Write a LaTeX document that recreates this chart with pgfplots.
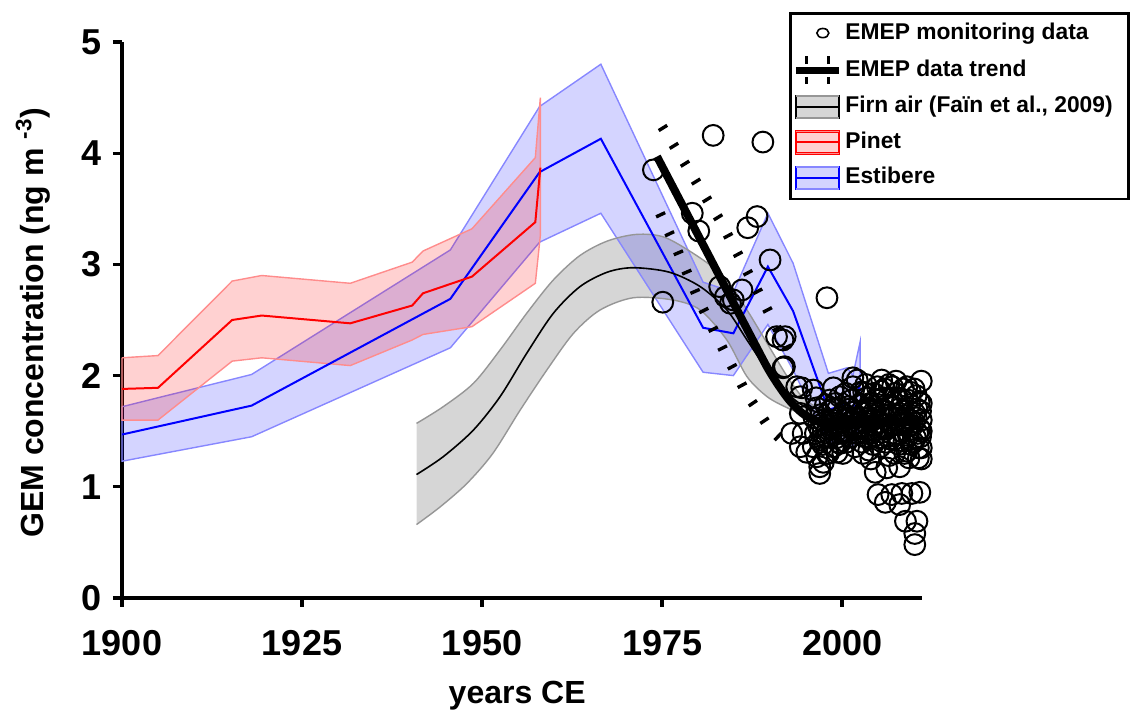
\documentclass[border=0pt]{standalone}
\usepackage{fontspec}
\setmainfont{Liberation Sans}
\usepackage{pgfplots}
\pgfplotsset{compat=1.18}
\usepgfplotslibrary{fillbetween}
\definecolor{bandblue}{RGB}{0,0,255}
\definecolor{edgeblue}{RGB}{135,135,255}
\definecolor{edgered}{RGB}{255,140,140}
\definecolor{edgegray}{RGB}{150,150,150}
\begin{document}
\begin{tikzpicture}
\begin{axis}[
 at={(0,0)}, anchor=south west,
 scale only axis, width=400pt, height=278pt,
 xmin=1900, xmax=2011.1, ymin=0, ymax=5,
 axis x line=bottom, axis y line=left,
 axis line style={-, line width=1.6pt},
 tick align=outside, major tick length=4.5pt,
 tick style={line width=1.6pt, black},
 xtick={1900,1925,1950,1975,2000}, ytick={0,1,2,3,4,5},
 minor tick num=0,
 /pgf/number format/1000 sep={},
 /pgf/number format/assume math mode=true,
 ticklabel style={font=\bfseries\fontsize{18}{20}\selectfont},
 xticklabel style={yshift=-8pt},
 yticklabel style={xshift=-2pt},
 xlabel={years CE}, ylabel={GEM concentration (ng m \textsuperscript{-3})},
 label style={font=\bfseries\fontsize{16}{18}\selectfont},
 xlabel style={at={(axis description cs:0.494,-0.176)}, anchor=center},
 ylabel style={at={(axis description cs:-0.111,0.495)}, anchor=center},
 clip=false,
 legend cell align=left,
 legend style={at={(1.26,1.054)}, anchor=north east, draw=black, line width=1.3pt,
   font=\bfseries\fontsize{11.4}{13}\selectfont, inner xsep=1pt, inner ysep=3pt,
   nodes={inner xsep=0pt, inner ysep=2pt, text height=8.3pt, text depth=2.5pt},
   row sep=3pt, /tikz/every odd column/.append style={column sep=1.5pt}},
]
% legend
\addlegendimage{legend image code/.code={\path (0pt,0) (21.5pt,0); \draw[black,line width=0.8pt] (13.5pt,0.5pt) ellipse (3pt and 2.3pt);}}
\addlegendentry{EMEP monitoring data}
\addlegendimage{legend image code/.code={\path (0pt,0) (21.5pt,0); \draw[black,line width=3.5pt] (0pt,0)--(21.5pt,0);
  \draw[black,line width=1.6pt] (5.5pt,3.2pt)--(5.5pt,7pt) (16.5pt,3.2pt)--(16.5pt,7pt) (5.5pt,-3.2pt)--(5.5pt,-7pt) (16.5pt,-3.2pt)--(16.5pt,-7pt);}}
\addlegendentry{EMEP data trend}
\addlegendimage{legend image code/.code={\fill[black,fill opacity=0.16] (0pt,-5.5pt) rectangle (21.5pt,5.5pt);
  \draw[edgegray,line width=0.7pt] (0pt,5.5pt)--(21.5pt,5.5pt) (0pt,-5.5pt)--(21.5pt,-5.5pt); \draw[black,line width=0.8pt] (0pt,0)--(21.5pt,0);}}
\addlegendentry{Firn air (Faïn et al., 2009)\hspace*{7pt}}
\addlegendimage{legend image code/.code={\fill[red,fill opacity=0.18] (0pt,-5.5pt) rectangle (21.5pt,5.5pt);
  \draw[edgered,line width=0.7pt] (0pt,5.5pt)--(21.5pt,5.5pt) (0pt,-5.5pt)--(21.5pt,-5.5pt); \draw[red,line width=1pt] (0pt,0)--(21.5pt,0);}}
\addlegendentry{Pinet}
\addlegendimage{legend image code/.code={\fill[bandblue,fill opacity=0.17] (0pt,-5.5pt) rectangle (21.5pt,5.5pt);
  \draw[edgeblue,line width=0.7pt] (0pt,5.5pt)--(21.5pt,5.5pt) (0pt,-5.5pt)--(21.5pt,-5.5pt); \draw[bandblue,line width=1pt] (0pt,0)--(21.5pt,0);}}
\addlegendentry{Estibere}

% Estibere band
\addplot[forget plot, fill=bandblue, fill opacity=0.17, draw=edgeblue, line width=0.7pt] coordinates {
(1900,1.72)(1918,2.01)(1945.6,3.13)(1958,4.42)(1966.5,4.80)(1980.7,2.84)(1984.9,2.75)(1989.7,3.46)(1993.2,3.01)(1998.1,2.02)(2000.7,2.07)(2001.5,2.00)(2002.5,2.30)
(2002.5,1.55)(2001.4,1.35)(2000.7,1.42)(1998.1,1.40)(1993.2,2.05)(1989.7,2.46)(1984.9,2.00)(1980.7,2.03)(1966.5,3.46)(1958,3.20)(1945.6,2.25)(1918,1.45)(1900,1.23)(1900,1.72)
};
% Pinet band
\addplot[forget plot, fill=red, fill opacity=0.18, draw=edgered, line width=0.7pt] coordinates {
(1900,2.16)(1905,2.18)(1915.3,2.85)(1919.4,2.90)(1931.7,2.83)(1940.3,3.02)(1941.8,3.12)(1948.6,3.32)(1957.4,3.96)(1958.1,4.50)
(1958.1,3.26)(1957.4,2.83)(1948.6,2.44)(1941.8,2.37)(1940.3,2.32)(1931.7,2.09)(1919.4,2.16)(1915.3,2.13)(1905,1.60)(1900,1.60)(1900,2.16)
};
% Firn air band
\addplot[forget plot, name path=fu, smooth, edgegray, line width=0.7pt] coordinates {
(1940.9,1.57)(1944.6,1.72)(1948.8,1.93)(1952.5,2.23)(1956.2,2.56)(1959.9,2.86)(1963.6,3.08)(1967.4,3.21)(1971.5,3.27)(1975.5,3.24)(1980.7,3.04)(1984,2.86)(1986.8,2.59)(1989.6,2.29)(1992.4,1.99)(1994.6,1.80)(1997,1.70)(2000,1.66)(2005,1.64)};
\addplot[forget plot, name path=fl, smooth, edgegray, line width=0.7pt] coordinates {
(1940.9,0.66)(1944.2,0.82)(1947.9,1.03)(1951.5,1.30)(1955.3,1.69)(1959.0,2.05)(1962.7,2.38)(1966.4,2.59)(1971.0,2.70)(1976.5,2.68)(1980.3,2.59)(1984,2.32)(1986.8,1.99)(1989.6,1.81)(1992.4,1.71)(1995.1,1.64)(1998,1.58)(2005,1.56)};
\addplot[forget plot, black, fill opacity=0.16] fill between[of=fu and fl];
% centre lines
\addplot[forget plot, bandblue, line width=1pt] coordinates {
(1900,1.47)(1918,1.73)(1945.6,2.69)(1958,3.83)(1966.5,4.13)(1980.7,2.43)(1984.9,2.38)(1989.7,2.98)(1993.2,2.58)(1998.1,1.69)(2000.7,1.75)(2001.4,1.68)(2002.5,1.93)};
\addplot[forget plot, red, line width=1pt] coordinates {
(1900,1.88)(1905,1.89)(1915.3,2.50)(1919.4,2.54)(1931.7,2.47)(1940.3,2.63)(1941.8,2.74)(1948.6,2.89)(1957.4,3.38)(1958.1,3.87)};
\addplot[forget plot, black, smooth, line width=0.8pt] coordinates {
(1940.9,1.11)(1944.6,1.27)(1948.8,1.51)(1952.5,1.81)(1956.2,2.20)(1959.9,2.56)(1963.6,2.80)(1967.4,2.93)(1971,2.97)(1976,2.93)(1980.3,2.80)(1984,2.59)(1986.8,2.32)(1989.6,2.05)(1992.4,1.84)(1995.1,1.71)(1998.8,1.63)(2005,1.60)};
% EMEP trend confidence (dashed)
\addplot[forget plot, black, line width=5pt, dash pattern=on 1.7pt off 8.8pt] coordinates {
(1975,4.24)(1983,3.40)(1988.2,2.77)(1993.5,2.11)};
\addplot[forget plot, black, line width=5pt, dash pattern=on 1.7pt off 8.8pt] coordinates {
(1974.7,3.46)(1977.1,3.13)(1980.3,2.65)(1984,2.17)(1986.8,1.83)(1990,1.52)(1992.6,1.36)};
% EMEP monitoring data
\addplot[forget plot, only marks, mark=o, mark size=5.2pt, mark options={line width=1pt, black}] coordinates {
(1973.8,3.85)(1975.1,2.66)(1979.2,3.46)(1980.1,3.30)(1982.1,4.16)(1983.0,2.80)(1983.8,2.71)(1984.5,2.65)(1984.9,2.68)(1986.1,2.77)
(1986.9,3.33)(1988.2,3.43)(1989.0,4.10)(1990.0,3.04)(1990.9,2.35)(1991.8,2.32)(1992.1,2.35)(1991.8,2.07)(1992.0,2.08)(1993.0,1.48)
(1993.7,1.90)(1994.2,1.81)(1994.2,1.66)(1994.4,1.89)(1994.2,1.36)(1994.6,1.48)(1995.1,1.31)(1996.0,1.87)(1996.0,1.36)(1996.5,1.27)
(1996.9,1.18)(1996.9,1.12)(1997.9,2.70)(1997.9,1.45)(1998.8,1.89)(1999.7,1.81)(1999.7,1.39)(2001.5,1.98)(2001.5,1.90)(2002.1,1.96)
(1996.1,1.62)(1996.3,1.48)(1996.5,1.71)(1996.7,1.55)(1996.9,1.42)
(1997.1,1.65)(1997.3,1.38)(1997.5,1.58)(1997.7,1.74)(1997.9,1.30)(1997.4,1.22)
(1998.0,1.52)(1998.2,1.68)(1998.4,1.45)(1998.6,1.60)(1998.8,1.36)(1998.3,1.78)
(1999.0,1.57)(1999.2,1.44)(1999.4,1.70)(1999.6,1.52)(1999.8,1.62)(1999.3,1.31)
(2000.0,1.48)(2000.2,1.66)(2000.4,1.55)(2000.6,1.40)(2000.8,1.72)(2000.5,1.84)
(2001.0,1.58)(2001.2,1.45)(2001.4,1.67)(2001.6,1.52)(2001.8,1.36)(2001.3,1.78)
(2002.0,1.62)(2002.2,1.48)(2002.4,1.74)(2002.6,1.55)(2002.8,1.40)(2002.5,1.85)
(2003.0,1.66)(2003.2,1.52)(2003.4,1.80)(2003.6,1.44)(2003.8,1.60)(2003.3,1.92)(2003.7,1.33)
(2004.0,1.70)(2004.2,1.55)(2004.4,1.84)(2004.6,1.46)(2004.8,1.62)(2004.3,1.38)(2004.6,1.13)(2004.9,1.90)
(2005.0,1.74)(2005.2,1.58)(2005.4,1.86)(2005.6,1.49)(2005.8,1.65)(2005.3,1.36)(2005.0,0.93)(2005.5,1.96)
(2006.0,1.68)(2006.2,1.52)(2006.4,1.80)(2006.6,1.43)(2006.8,1.62)(2006.2,1.17)(2006.9,0.93)(2006.0,0.86)(2006.5,1.92)
(2007.0,1.72)(2007.2,1.56)(2007.4,1.84)(2007.6,1.47)(2007.8,1.64)(2007.3,1.30)(2007.5,1.95)
(2008.0,1.66)(2008.2,1.50)(2008.4,1.78)(2008.6,1.41)(2008.8,1.58)(2008.0,1.18)(2008.3,0.94)(2008.0,0.84)(2008.8,0.69)(2008.5,1.88)
(2009.0,1.62)(2009.2,1.46)(2009.4,1.74)(2009.6,1.38)(2009.8,1.55)(2009.3,1.26)(2009.7,0.94)(2009.5,1.85)
(2010.0,1.58)(2010.2,1.44)(2010.4,1.70)(2010.6,1.35)(2010.8,1.52)(2010.3,1.82)(2010.8,0.95)(2010.4,0.69)(2010.1,0.58)(2010.1,0.48)(2010.6,1.26)
(2011.0,1.60)(2010.9,1.45)(2011.0,1.95)(2011.0,1.35)(2011.0,1.75)
(1996.4,1.80)(1997.0,1.50)(1997.6,1.44)(1998.1,1.30)(1998.5,1.52)(1999.1,1.75)(1999.5,1.40)(1999.9,1.50)(2000.1,1.30)(2000.3,1.60)
(2000.9,1.50)(2001.1,1.70)(2001.7,1.62)(2001.9,1.48)(2002.3,1.58)(2002.7,1.68)(2002.9,1.30)(2003.1,1.45)(2003.5,1.62)(2003.9,1.75)
(2004.1,1.48)(2004.5,1.68)(2004.7,1.78)(2005.1,1.44)(2005.7,1.80)(2005.9,1.52)(2006.1,1.40)(2006.3,1.64)(2006.7,1.72)(2007.1,1.42)
(2007.7,1.80)(2007.9,1.38)(2008.1,1.56)(2008.5,1.68)(2008.7,1.30)(2009.1,1.78)(2009.5,1.60)(2009.9,1.40)(2010.1,1.66)(2010.5,1.48)
(2010.7,1.76)(2011.0,1.50)(2003.0,1.85)(2005.9,1.88)(2007.0,1.90)(2009.0,1.90)(2010.0,1.88)(2004.0,1.25)(2006.5,1.28)(2009.0,1.32)(2011.0,1.25)
(1997.2,1.60)(1998.7,1.70)(2000.7,1.62)(2002.1,1.52)(2003.3,1.70)(2004.3,1.60)(2005.5,1.70)(2006.9,1.55)(2007.9,1.70)(2009.3,1.55)(2010.3,1.62)(2010.9,1.68)
};
% EMEP trend
\addplot[forget plot, black, line width=4pt, smooth] coordinates {
(1974.3,3.97)(1981,3.14)(1987.6,2.32)(1990,2.03)(1992.4,1.80)(1994.5,1.66)(1996.9,1.58)(2000,1.57)(2005,1.58)(2011,1.58)};
\end{axis}
\pgfresetboundingbox
\path (-61pt,-58.5pt) rectangle (505pt,299pt);
\end{tikzpicture}
\end{document}
